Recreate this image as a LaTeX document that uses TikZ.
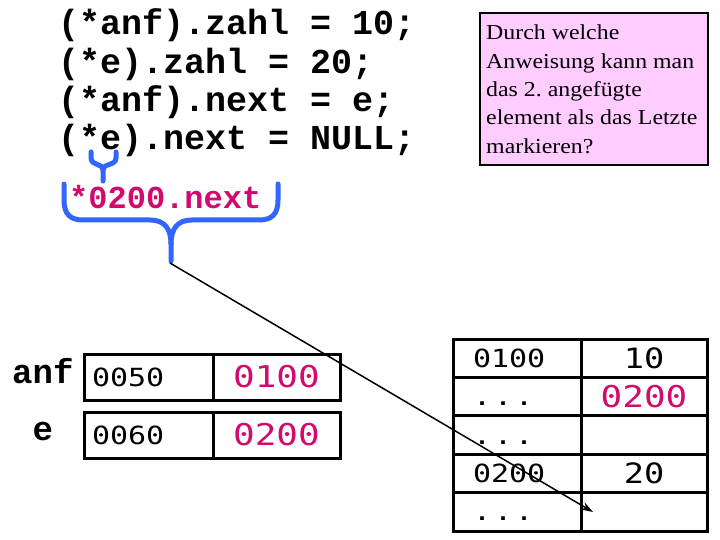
\documentclass[tikz,border=0pt]{standalone}
\usepackage{fontspec}
\setmainfont{Liberation Serif}
\setmonofont{Liberation Mono}
\newfontfamily\digfont[FakeStretch=1.2]{DejaVu Sans Mono}
\newfontfamily\qfont[FakeStretch=1.12]{Liberation Serif}
\usetikzlibrary{arrows.meta}
\definecolor{bracebl}{RGB}{51,102,255}
\definecolor{pinktx}{RGB}{210,10,110}
\definecolor{qfill}{RGB}{255,204,255}
\frenchspacing
\newcommand{\mydots}{.\kern3pt.\kern3pt.}
\begin{document}
\begin{tikzpicture}[x=1pt,y=-1pt,
  codeline/.style={anchor=base west,inner sep=0pt,font=\ttfamily\bfseries\fontsize{35}{35}\selectfont},
  varlbl/.style={anchor=base west,inner sep=0pt,font=\ttfamily\bfseries\fontsize{34}{34}\selectfont},
  qline/.style={anchor=base west,inner sep=0pt,font=\qfont\fontsize{21.3}{21.3}\selectfont},
  brace/.style={draw=bracebl,line width=5pt,line cap=round,line join=round},
  cellbase/.style={draw,line width=3pt,anchor=north west,outer sep=0pt,inner ysep=0pt,text depth=0pt},
  leftcell/.style={cellbase,minimum height=46pt,inner xsep=8pt,text width=113pt,align=left,
     text height=18pt,font=\digfont\fontsize{25}{25}\selectfont},
  ptrcell/.style={cellbase,minimum height=46pt,minimum width=127pt,inner xsep=0pt,
     text height=21.9pt,text=pinktx,font=\digfont\fontsize{30}{30}\selectfont},
  addrcell/.style={cellbase,minimum height=38.4pt,inner xsep=20pt,text width=88pt,align=left,
     text height=18pt,font=\digfont\fontsize{25}{25}\selectfont},
  valcell/.style={cellbase,minimum height=38.4pt,minimum width=126pt,inner xsep=0pt,
     text height=20.4pt,font=\digfont\fontsize{28}{28}\selectfont},
]
\useasboundingbox (0,0) rectangle (720,540);
\fill[white] (0,0) rectangle (720,540);

% code lines
\node[codeline] (c1) at (58,35)    {(*anf).zahl = 10;};
\node[codeline] (c2) at (58,73.3)  {(*e).zahl = 20;};
\node[codeline] (c3) at (58,111.7) {(*anf).next = e;};
\node[codeline] (c4) at (58,150)   {(*e).next = NULL;};

% question box
\node[draw,line width=2pt,fill=qfill,anchor=north west,outer sep=0pt,inner sep=0pt,
      minimum width=228pt,minimum height=152pt] (qbox) at (480,13) {};
\node[qline] (q1) at (486,40)    {Durch welche};
\node[qline] (q2) at (486,68.3)  {Anweisung kann man};
\node[qline] (q3) at (486,96.6)  {das 2. angefügte};
\node[qline] (q4) at (486,124.9) {element als das Letzte};
\node[qline] (q5) at (486,153.2) {markieren?};

% braces
\draw[brace] (91,152) -- (91,158) .. controls (91,166) and (103,163) .. (103,170) -- (103,181);
\draw[brace] (116,152) -- (116,158) .. controls (116,166) and (103,163) .. (103,170);
\draw[brace] (64,184) -- (64,200) .. controls (64,214) and (70,220) .. (83,220) -- (150,220)
   .. controls (164,220) and (171,228) .. (171,244) -- (171,261);
\draw[brace] (278,184) -- (278,200) .. controls (278,214) and (272,220) .. (259,220) -- (192,220)
   .. controls (178,220) and (171,228) .. (171,244);
\coordinate (bracetip) at (170,263);
\node[anchor=base west,inner sep=0pt,text=pinktx,font=\ttfamily\bfseries\fontsize{32}{32}\selectfont]
   (deref) at (69,208) {*0200.next};

% variables
\node[varlbl] (lanf) at (12,383) {anf};
\node[varlbl] (le) at (32.4,440) {e};
\node[leftcell] (a1) at (84,354) {0050};
\node[ptrcell]  (a2) at (213,354) {0100};
\node[leftcell] (e1) at (84,412) {0060};
\node[ptrcell]  (e2) at (213,412) {0200};

% memory table
\node[addrcell] (r1l) at (453,339)   {0100};
\node[valcell]  (r1r) at (581,339)   {10};
\node[addrcell] (r2l) at (453,377.4) {\mydots};
\node[valcell,text=pinktx,text height=21.9pt,font=\digfont\fontsize{30}{30}\selectfont] (r2r) at (581,377.4) {0200};
\node[addrcell] (r3l) at (453,415.8) {\mydots};
\node[valcell]  (r3r) at (581,415.8) {};
\node[addrcell] (r4l) at (453,454.2) {0200};
\node[valcell]  (r4r) at (581,454.2) {20};
\node[addrcell] (r5l) at (453,492.6) {\mydots};
\node[valcell]  (r5r) at (581,492.6) {};

% arrow
\coordinate (target) at (593,512);
\draw[line width=1.5pt,-{Stealth[length=12pt,width=8pt]}] (bracetip) -- (target);
\end{tikzpicture}
\end{document}
